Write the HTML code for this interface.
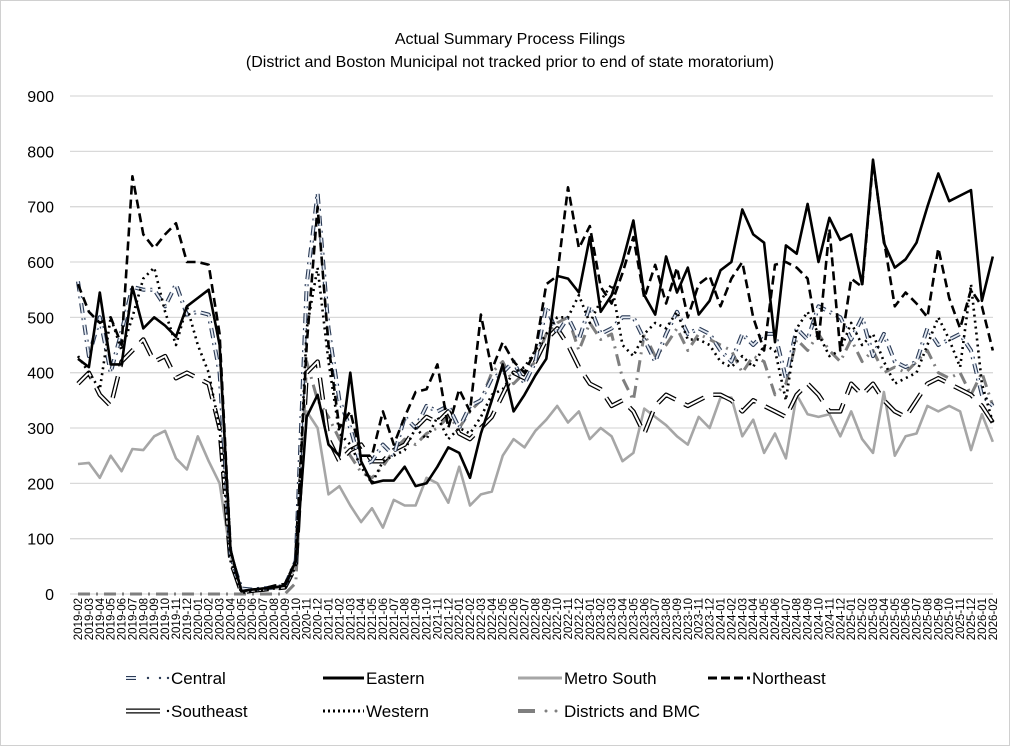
<!DOCTYPE html>
<html><head><meta charset="utf-8"><style>
html,body{margin:0;padding:0;background:#fff;}
svg{display:block;font-family:"Liberation Sans",sans-serif;}
</style></head><body>
<svg id="c" width="1020" height="746" viewBox="0 0 1020 746" xmlns="http://www.w3.org/2000/svg">
<rect x="0.5" y="0.5" width="1009" height="745" fill="#fff" stroke="#d0d0d0"/>
<text x="510" y="44" font-size="16" text-anchor="middle" fill="#000">Actual Summary Process Filings</text>
<text x="510" y="67" font-size="16" text-anchor="middle" fill="#000">(District and Boston Municipal not tracked prior to end of state moratorium)</text>
<g id="grid"></g><g id="series"></g><g id="xl"></g>
<g font-size="17" fill="#000">
<line x1="126" y1="678" x2="136" y2="678" stroke="#2a3a55" stroke-width="4"/><line x1="126" y1="678" x2="136" y2="678" stroke="#dfe6f0" stroke-width="2"/>
<circle cx="148" cy="678" r="1.2" fill="#2a3a55"/><circle cx="160" cy="678" r="1.2" fill="#2a3a55"/><circle cx="168" cy="678" r="1.2" fill="#2a3a55"/>
<text x="171" y="684">Central</text>
<line x1="323" y1="678" x2="364" y2="678" stroke="#000" stroke-width="3"/><text x="366" y="684">Eastern</text>
<line x1="518" y1="678" x2="562" y2="678" stroke="#a6a6a6" stroke-width="3"/><text x="564" y="684">Metro South</text>
<line x1="708" y1="678" x2="750" y2="678" stroke="#000" stroke-width="3" stroke-dasharray="9,4"/><text x="752" y="684">Northeast</text>
<line x1="126" y1="711" x2="160" y2="711" stroke="#000" stroke-width="5"/><line x1="126" y1="711" x2="160" y2="711" stroke="#fff" stroke-width="2.4"/>
<circle cx="168" cy="711" r="1.2" fill="#000"/><text x="171" y="717">Southeast</text>
<line x1="323" y1="711" x2="364" y2="711" stroke="#000" stroke-width="3" stroke-dasharray="2,3"/><text x="366" y="717">Western</text>
<line x1="518" y1="711" x2="535" y2="711" stroke="#7f7f7f" stroke-width="4"/><circle cx="546" cy="711" r="1.5" fill="#7f7f7f"/><circle cx="556" cy="711" r="1.5" fill="#7f7f7f"/>
<text x="564" y="717">Districts and BMC</text>
</g>
</svg>
<script>
const NS="http://www.w3.org/2000/svg";
function el(p,t,a){const e=document.createElementNS(NS,t);for(const k in a)e.setAttribute(k,a[k]);p.appendChild(e);return e;}
const X0=78,DX=10.89,Y0=594,SC=0.5533;
const grid=document.getElementById('grid');
for(let v=0;v<=900;v+=100){const y=Y0-v*SC;el(grid,'line',{x1:70,x2:993,y1:y,y2:y,stroke:'#d9d9d9','stroke-width':1.3});
const t=el(grid,'text',{x:54,y:y+6,'font-size':16,'text-anchor':'end',fill:'#000'});t.textContent=v;}
const labs=[];let yr=2019,m=2;for(let i=0;i<85;i++){labs.push(yr+'-'+String(m).padStart(2,'0'));m++;if(m>12){m=1;yr++;}}
const xl=document.getElementById('xl');
labs.forEach((l,i)=>{const x=X0+DX*i+4;const t=el(xl,'text',{x:0,y:0,'font-size':11.5,'text-anchor':'end',transform:`translate(${x},598) rotate(-90)`});t.textContent=l;});
const E=[425,410,545,415,415,555,480,500,485,465,520,535,550,450,80,5,8,10,12,15,60,320,360,270,250,400,240,200,205,205,230,195,200,230,265,255,210,290,350,415,330,360,395,425,575,570,545,645,510,540,600,675,540,505,610,545,590,505,530,585,600,695,650,635,455,630,615,705,600,680,640,650,560,785,635,590,605,635,700,760,710,720,730,530,610];
const MS=[235,237,210,250,222,262,260,285,295,245,225,285,240,200,70,5,5,8,10,12,50,330,300,180,195,160,130,155,120,170,160,160,210,200,165,230,160,180,185,250,280,265,295,315,340,310,330,280,300,285,240,255,335,320,305,285,270,320,300,355,355,285,315,255,290,245,360,325,320,325,285,330,280,255,365,250,285,290,340,330,340,330,260,325,275];
const NE=[560,510,490,500,450,755,650,625,650,670,600,600,595,470,80,5,8,10,15,18,60,450,700,450,300,330,250,250,330,270,320,365,370,415,300,370,330,505,405,455,420,400,440,560,575,735,625,665,555,525,580,645,535,595,525,590,500,560,575,520,570,600,500,440,595,600,590,570,455,660,440,570,555,780,640,520,545,525,500,625,535,480,550,520,440];
const CE=[565,430,500,400,475,555,550,550,520,560,505,510,505,400,70,10,8,10,12,15,60,560,725,480,350,300,230,240,270,250,320,300,340,330,340,300,340,350,390,400,420,380,420,520,470,500,460,520,470,480,500,500,460,420,470,510,470,480,470,440,420,470,450,470,470,390,480,460,520,510,500,460,500,430,470,420,410,420,480,450,460,470,440,360,340];
const WE=[430,400,370,500,440,500,570,590,510,450,520,450,400,300,60,2,5,8,10,12,50,480,590,420,290,270,230,200,240,250,260,300,280,320,280,300,290,320,360,370,400,410,440,470,500,500,540,490,530,560,450,430,470,490,480,510,460,460,450,420,410,430,410,450,440,350,480,510,470,430,440,490,450,470,420,380,390,400,450,500,460,410,560,380,310];
const SE=[380,400,360,340,420,440,460,420,430,390,400,390,380,300,60,3,6,8,10,12,50,400,420,280,240,260,270,240,240,260,270,300,320,310,330,290,280,300,320,360,400,390,420,460,480,450,410,380,370,340,350,330,290,340,360,350,340,350,360,360,350,330,350,340,330,320,360,380,360,330,330,380,360,380,350,330,320,350,380,390,380,370,360,340,310];
const DB=[0,0,0,0,0,0,0,0,0,0,0,0,0,0,0,0,0,0,0,0,20,420,350,320,280,250,220,210,230,260,280,270,290,300,320,300,330,350,400,420,380,400,420,470,490,500,440,490,460,470,390,350,470,430,450,480,440,470,460,450,440,400,430,420,360,380,460,440,470,440,420,460,420,440,400,410,400,420,440,400,390,400,360,400,340];
const G=document.getElementById('series');
function pts(d){return d.map((v,i)=>(X0+DX*i).toFixed(1)+','+(Y0-v*SC).toFixed(1)).join(' ');}
function line(d,a){el(G,'polyline',Object.assign({points:pts(d),fill:'none','stroke-linejoin':'round'},a));}
line(MS,{stroke:'#a6a6a6','stroke-width':2.6});
line(DB,{stroke:'#7f7f7f','stroke-width':3,'stroke-dasharray':'12,6,2,6'});
line(SE,{stroke:'#000','stroke-width':4.5,'stroke-dasharray':'22,10'});
line(SE,{stroke:'#fff','stroke-width':2,'stroke-dasharray':'22,10'});
line(CE,{stroke:'#2a3a55','stroke-width':4,'stroke-dasharray':'10,5,2,5'});
line(CE,{stroke:'#e3e9f2','stroke-width':1.8,'stroke-dasharray':'10,5,2,5'});
line(WE,{stroke:'#000','stroke-width':2.6,'stroke-dasharray':'2,4'});
line(NE,{stroke:'#000','stroke-width':2.6,'stroke-dasharray':'9,5'});
line(E,{stroke:'#000','stroke-width':2.6});
</script>
</body></html>
